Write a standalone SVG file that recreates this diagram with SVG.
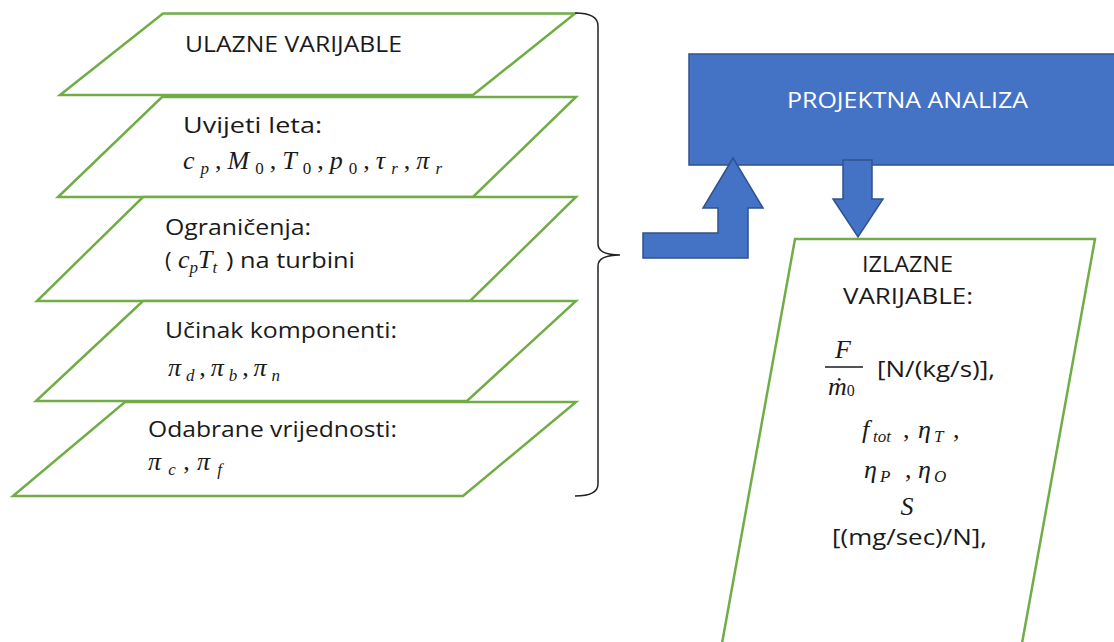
<svg xmlns="http://www.w3.org/2000/svg" width="1114" height="642" viewBox="0 0 1114 642">
<style>
.para{fill:#fff;stroke:#70AD47;stroke-width:2.5;stroke-linejoin:miter}
.t{font-family:"Open Sans","Liberation Sans",sans-serif;font-size:22px;fill:#1a1a1a}
.w{font-family:"Open Sans","Liberation Sans",sans-serif;font-size:21px;fill:#fff}
.m{font-family:"Liberation Serif","Times New Roman",serif;font-size:26px;font-style:italic;fill:#1a1a1a}
.s{font-size:17px}
.n{font-style:normal}
.blue{fill:#4472C4;stroke:#2F528F;stroke-width:1.5}
.brace{fill:none;stroke:#222;stroke-width:1.5}
</style>
<rect width="1114" height="642" fill="#fff"/>

<g id="n1">
<polygon class="para" points="163,13.5 575,13.5 473,95 60,95"/>
<text class="t" x="185" y="52" textLength="217" lengthAdjust="spacingAndGlyphs">ULAZNE VARIJABLE</text>
</g>
<g id="n2">
<polygon class="para" points="162,97 576,97 473,197 58,197"/>
<text class="t" x="183" y="133" textLength="139" lengthAdjust="spacingAndGlyphs">Uvijeti leta:</text>
<text class="m" x="183" y="169" textLength="259" lengthAdjust="spacing">c<tspan class="s" dy="5">p</tspan><tspan class="n" dy="-5">,</tspan>M<tspan class="s n" dy="5">0</tspan><tspan class="n" dy="-5">,</tspan>T<tspan class="s n" dy="5">0</tspan><tspan class="n" dy="-5">,</tspan>p<tspan class="s n" dy="5">0</tspan><tspan class="n" dy="-5">,</tspan>τ<tspan class="s" dy="5">r</tspan><tspan class="n" dy="-5">,</tspan>π<tspan class="s" dy="5">r</tspan></text>
</g>
<g id="n3">
<polygon class="para" points="143,197 576,197 470,301 37,301"/>
<text class="t" x="165" y="235" textLength="146" lengthAdjust="spacingAndGlyphs">Ograničenja:</text>
<text class="t" x="165" y="268">( </text>
<text class="m" x="178" y="268">c<tspan class="s" dy="5">p</tspan><tspan dy="-5">T</tspan><tspan class="s" dy="5">t</tspan></text>
<text class="t" x="226" y="268" textLength="129" lengthAdjust="spacingAndGlyphs">) na turbini</text>
</g>
<g id="n4">
<polygon class="para" points="143,301 576,301 467,401 36,401"/>
<text class="t" x="165" y="338" textLength="232" lengthAdjust="spacingAndGlyphs">Učinak komponenti:</text>
<text class="m" x="168" y="376" textLength="112" lengthAdjust="spacing">π<tspan class="s" dy="5">d</tspan><tspan class="n" dy="-5">,</tspan>π<tspan class="s" dy="5">b</tspan><tspan class="n" dy="-5">,</tspan>π<tspan class="s" dy="5">n</tspan></text>
</g>
<g id="n5">
<polygon class="para" points="125,402 576,402 463,496 13,496"/>
<text class="t" x="148" y="437" textLength="249" lengthAdjust="spacingAndGlyphs">Odabrane vrijednosti:</text>
<text class="m" x="148" y="470" textLength="74" lengthAdjust="spacing">π<tspan class="s" dy="5">c</tspan><tspan class="n" dy="-5">,</tspan>π<tspan class="s" dy="5">f</tspan></text>
</g>

<g id="brace">
<path class="brace" d="M575,13 Q598,13 598,26 L598,244 Q598,255 620,255 Q598,255 598,266 L598,484 Q598,496 575,496"/>
</g>

<g id="analysis">
<rect class="blue" x="689" y="54" width="440" height="111"/>
<text class="w" x="787" y="108" textLength="241" lengthAdjust="spacingAndGlyphs">PROJEKTNA ANALIZA</text>
</g>

<g id="connectors">
<polygon class="blue" points="643,233 718,233 718,208 703,208 733,158 763,208 748,208 748,258 643,258"/>
<polygon class="blue" points="843,160 872,160 872,199 883,199 858,237 833,199 843,199"/>
</g>

<g id="output">
<polygon class="para" points="795,239 1095,239 1019,660 719,660"/>
<text class="t" x="862" y="272" textLength="91" lengthAdjust="spacingAndGlyphs">IZLAZNE</text>
<text class="t" x="843" y="304" textLength="130" lengthAdjust="spacingAndGlyphs">VARIJABLE:</text>
<text class="m" x="843" y="358" text-anchor="middle" font-size="27">F</text>
<line x1="825" y1="367" x2="863" y2="367" stroke="#1a1a1a" stroke-width="1.5"/>
<text class="m" x="828" y="395" font-size="24">ṁ<tspan class="n" font-size="16" dy="1">0</tspan></text>
<text class="t" x="877" y="377" textLength="118" lengthAdjust="spacingAndGlyphs">[N/(kg/s)],</text>
<text class="m" y="438"><tspan x="862">f</tspan><tspan class="s" x="873" dy="4">tot</tspan><tspan class="n" x="903" dy="-4">,</tspan><tspan x="918">η</tspan><tspan class="s" x="934" dy="4">T</tspan><tspan class="n" x="953" dy="-4">,</tspan></text>
<text class="m" y="478"><tspan x="864">η</tspan><tspan class="s" x="880" dy="4">P</tspan><tspan class="n" x="905" dy="-4">,</tspan><tspan x="918">η</tspan><tspan class="s" x="934" dy="4">O</tspan></text>
<text class="m" x="907" y="515" text-anchor="middle" font-size="27">S</text>
<text class="t" x="832" y="545" textLength="155" lengthAdjust="spacingAndGlyphs">[(mg/sec)/N],</text>
</g>
</svg>
